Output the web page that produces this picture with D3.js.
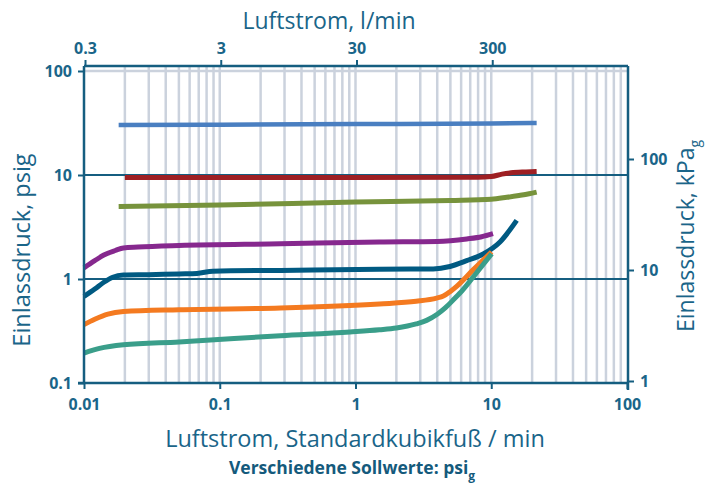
<!DOCTYPE html>
<html>
<head>
<meta charset="utf-8">
<script src="https://cdn.jsdelivr.net/npm/d3@7"></script>
<style>
  body { margin: 0; background: #fff; }
  text { font-family: 'Open Sans', sans-serif; }
</style>
</head>
<body>
<div id="chart"></div>
<script>
// flow in scfm (x) vs inlet pressure in psig (y), one curve per set point
var blueX = [0.018, 0.1, 1, 10, 21.6]
var blueY = [30.2, 30.5, 30.9, 31.3, 31.6]

var redX = [0.02, 0.1, 1, 8, 10, 12, 14, 18, 21.6]
var redY = [9.44, 9.46, 9.48, 9.5, 9.65, 10.2, 10.5, 10.7, 10.8]

var greenX = [0.018, 0.1, 1, 5, 10, 13, 16, 19, 21.6]
var greenY = [4.99, 5.15, 5.5, 5.7, 5.85, 6.1, 6.35, 6.6, 6.85]

var purpleX = [0.01, 0.012, 0.014, 0.017, 0.0195, 0.025, 0.05, 0.28, 1.5, 4, 6.6, 8.5, 10.3]
var purpleY = [1.28, 1.5, 1.7, 1.88, 1.99, 2.03, 2.1, 2.18, 2.27, 2.3, 2.43, 2.55, 2.73]

var navyX = [0.01, 0.012, 0.014, 0.0163, 0.0195, 0.03, 0.05, 0.068, 0.089, 0.28, 1.5, 3.74, 4.96, 6.59, 8.73, 11.6, 15.4]
var navyY = [0.68, 0.8, 0.93, 1.04, 1.09, 1.1, 1.12, 1.13, 1.19, 1.21, 1.24, 1.25, 1.32, 1.5, 1.74, 2.27, 3.66]

var orangeX = [0.01, 0.012, 0.015, 0.0195, 0.05, 0.28, 1.5, 2.8, 3.96, 4.44, 5.0, 5.56, 7.38, 10.07]
var orangeY = [0.364, 0.41, 0.46, 0.487, 0.507, 0.526, 0.575, 0.61, 0.655, 0.685, 0.76, 0.85, 1.23, 1.82]

var tealX = [0.01, 0.013, 0.0195, 0.05, 0.28, 0.91, 1.5, 2.0, 2.8, 3.34, 4.0, 4.6, 5.3, 6.2, 7.8, 10.07]
var tealY = [0.194, 0.215, 0.233, 0.248, 0.285, 0.31, 0.325, 0.338, 0.37, 0.40, 0.458, 0.53, 0.637, 0.79, 1.15, 1.75]

var series = [
  {x: blueX, y: blueY, color: '#4a7fc1', w: 4.5},
  {x: redX, y: redY, color: '#9e1f23', w: 5},
  {x: greenX, y: greenY, color: '#77933c', w: 5},
  {x: purpleX, y: purpleY, color: '#86288e', w: 5},
  {x: navyX, y: navyY, color: '#005a82', w: 5},
  {x: orangeX, y: orangeY, color: '#f47a20', w: 5},
  {x: tealX, y: tealY, color: '#3a9e8a', w: 5},
]

var bottomTicks = [0.01, 0.1, 1, 10, 100]
var bottomLabels = ['0.01', '0.1', '1', '10', '100']
var topTicks = [0.3, 3, 30, 300]
var topLabels = ['0.3', '3', '30', '300']
var leftTicks = [0.1, 1, 10, 100]
var leftLabels = ['0.1', '1', '10', '100']
var rightTicks = [1, 10, 100]
var rightLabels = ['1', '10', '100']

var width = 719
var height = 493
var axisColor = '#155e80'
var textColor = '#1a6589'
var gridColor = '#cbd2dd'

var svg = d3.select('#chart').append('svg')
  .attr('width', width)
  .attr('height', height)

var x = d3.scaleLog().domain([0.01, 100]).range([84, 627])
var y = d3.scaleLog().domain([0.1, 100]).range([383, 71])
var xTop = d3.scaleLog().domain([0.3, 3000]).range([85, 628])
var yRight = d3.scaleLog().domain([1, 100]).range([381, 159])
var frameTop = 66

// vertical grid at every log tick
var vGrid = x.ticks().filter(d => d > 0.01 && d < 100)
svg.append('g').selectAll('line').data(vGrid).join('line')
  .attr('x1', d => x(d)).attr('x2', d => x(d))
  .attr('y1', frameTop).attr('y2', y.range()[0])
  .attr('stroke', gridColor).attr('stroke-width', 2.5)

// horizontal grid: 100 light, 1 and 10 dark
svg.append('line')
  .attr('x1', x.range()[0]).attr('x2', x.range()[1])
  .attr('y1', y(100)).attr('y2', y(100))
  .attr('stroke', gridColor).attr('stroke-width', 2.5)
svg.append('g').selectAll('line').data([1, 10]).join('line')
  .attr('x1', x.range()[0]).attr('x2', x.range()[1])
  .attr('y1', d => y(d)).attr('y2', d => y(d))
  .attr('stroke', axisColor).attr('stroke-width', 2)

// curves
var line = d3.line()
  .x(d => x(d[0]))
  .y(d => y(d[1]))
  .curve(d3.curveMonotoneX)

svg.append('g').selectAll('path').data(series).join('path')
  .attr('d', s => line(s.x.map((v, i) => [v, s.y[i]])))
  .attr('fill', 'none')
  .attr('stroke', s => s.color)
  .attr('stroke-width', s => s.w)
  .attr('stroke-linecap', 'butt')

// axes
function styleAxis(g) {
  g.select('.domain').remove()
  g.selectAll('.tick line').attr('stroke', axisColor).attr('stroke-width', 2)
  g.selectAll('.tick text')
    .attr('fill', textColor)
    .style('font-size', '16px')
    .style('font-weight', 700)
}

svg.append('g').attr('transform', `translate(0,${y.range()[0]})`)
  .call(d3.axisBottom(x).tickValues(bottomTicks).tickFormat((d, i) => bottomLabels[i]).tickSize(6).tickPadding(10))
  .call(styleAxis)

svg.append('g').attr('transform', `translate(0,${frameTop})`)
  .call(d3.axisTop(xTop).tickValues(topTicks).tickFormat((d, i) => topLabels[i]).tickSize(6).tickPadding(6))
  .call(styleAxis)

svg.append('g').attr('transform', `translate(${x.range()[0]},0)`)
  .call(d3.axisLeft(y).tickValues(leftTicks).tickFormat((d, i) => leftLabels[i]).tickSize(6).tickPadding(6))
  .call(styleAxis)

svg.append('g').attr('transform', `translate(${x.range()[1] + 1},0)`)
  .call(d3.axisRight(yRight).tickValues(rightTicks).tickFormat((d, i) => rightLabels[i]).tickSize(6).tickPadding(6))
  .call(styleAxis)

// frame lines
var frame = [
  [x.range()[0], frameTop, x.range()[0], y.range()[0]],
  [x.range()[0] - 6, y.range()[0], x.range()[1] + 1, y.range()[0]],
  [x.range()[0], frameTop, x.range()[1] + 1, frameTop],
  [x.range()[1] + 1, frameTop, x.range()[1] + 1, y.range()[0] + 7],
]
svg.append('g').selectAll('line').data(frame).join('line')
  .attr('x1', d => d[0]).attr('y1', d => d[1])
  .attr('x2', d => d[2]).attr('y2', d => d[3])
  .attr('stroke', axisColor).attr('stroke-width', 2.5)

// titles
svg.append('text').text('Luftstrom, l/min')
  .attr('x', 329).attr('y', 29)
  .attr('text-anchor', 'middle')
  .attr('fill', textColor)
  .style('font-size', '23px')

svg.append('text').text('Luftstrom, Standardkubikfuß / min')
  .attr('x', 355).attr('y', 447)
  .attr('text-anchor', 'middle')
  .attr('fill', textColor)
  .style('font-size', '23.5px')

svg.append('text')
  .attr('transform', 'translate(30,250) rotate(-90)')
  .attr('text-anchor', 'middle')
  .attr('fill', textColor)
  .style('font-size', '23.5px')
  .text('Einlassdruck, psig')

var rt = svg.append('text')
  .attr('transform', 'translate(694,236) rotate(-90)')
  .attr('text-anchor', 'middle')
  .attr('fill', textColor)
  .style('font-size', '23px')
rt.append('tspan').text('Einlassdruck, kPa')
rt.append('tspan').text('g').attr('dy', 6).style('font-size', '14px')

var cap = svg.append('text')
  .attr('x', 352).attr('y', 474)
  .attr('text-anchor', 'middle')
  .attr('fill', '#145a7c')
  .style('font-size', '17.5px')
  .style('font-weight', 700)
cap.append('tspan').text('Verschiedene Sollwerte: psi')
cap.append('tspan').text('g').attr('dy', 6).style('font-size', '12px')
</script>
</body>
</html>
